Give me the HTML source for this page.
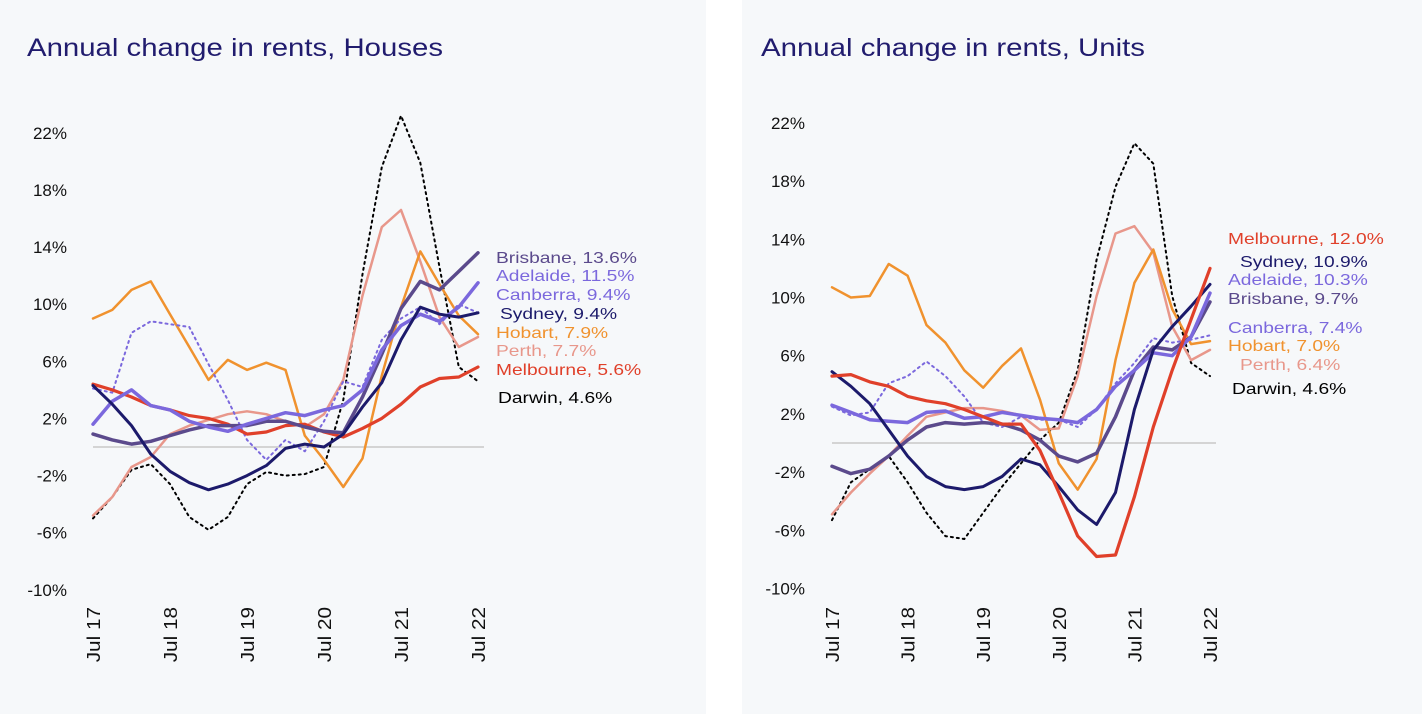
<!DOCTYPE html>
<html><head><meta charset="utf-8"><style>
html,body{margin:0;padding:0;background:#fff;}
body{width:1422px;height:714px;position:relative;overflow:hidden;font-family:"Liberation Sans",sans-serif;}
.panel{position:absolute;top:0;height:714px;background:#f6f8fa;}
</style></head><body>
<div class="panel" style="left:0;width:706px"></div>
<div class="panel" style="left:742px;width:680px"></div>
<svg id="chart" width="1422" height="714" style="position:absolute;left:0;top:0" xmlns="http://www.w3.org/2000/svg"></svg>
<script>
const xTicks = ["Jul 17","Jul 18","Jul 19","Jul 20","Jul 21","Jul 22"];
const yTicks = [22,18,14,10,6,2,-2,-6,-10];
const cities = ["Sydney","Brisbane","Adelaide","Canberra","Hobart","Perth","Melbourne","Darwin"];
// Houses, quarterly Jul17..Jul22
const housesSydney   = [4.3,3.0,1.5,-0.5,-1.7,-2.5,-3.0,-2.6,-2.0,-1.3,-0.1,0.2,0.0,0.9,2.8,4.5,7.5,9.8,9.3,9.1,9.4];
const housesBrisbane = [0.9,0.5,0.2,0.4,0.8,1.2,1.5,1.5,1.5,1.8,1.8,1.4,1.1,1.0,3.5,6.5,9.7,11.6,11.0,12.3,13.6];
const housesAdelaide = [1.6,3.2,4.0,2.9,2.6,1.8,1.4,1.1,1.6,2.0,2.4,2.2,2.6,2.9,4.0,6.8,8.5,9.3,8.8,9.8,11.5];
const housesCanberra = [4.1,3.8,8.0,8.8,8.6,8.4,5.8,3.3,0.5,-0.9,0.5,-0.3,1.8,4.6,4.2,7.5,9.0,9.8,8.6,10.0,9.4];
const housesHobart   = [9.0,9.6,11.0,11.6,9.3,7.0,4.7,6.1,5.4,5.9,5.4,0.8,-0.9,-2.8,-0.8,5.0,9.8,13.7,11.4,9.2,7.9];
const housesPerth    = [-4.8,-3.5,-1.4,-0.7,0.9,1.5,1.9,2.3,2.5,2.3,1.8,1.4,2.3,4.7,10.6,15.4,16.6,13.0,9.1,7.0,7.7];
const housesMelbourne= [4.4,4.0,3.5,2.9,2.6,2.2,2.0,1.6,0.9,1.05,1.5,1.6,1.05,0.7,1.3,2.0,3.0,4.2,4.8,4.9,5.6];
const housesDarwin   = [-5.0,-3.5,-1.6,-1.2,-2.6,-4.9,-5.8,-4.9,-2.6,-1.75,-2.0,-1.9,-1.4,3.3,12.1,19.6,23.2,19.9,12.6,5.6,4.6];
// Units
const unitsSydney    = [4.9,3.9,2.7,0.9,-0.9,-2.3,-3.0,-3.2,-3.0,-2.3,-1.1,-1.5,-3.0,-4.6,-5.6,-3.4,2.3,6.4,8.0,9.4,10.9];
const unitsBrisbane  = [-1.6,-2.1,-1.8,-0.9,0.2,1.1,1.4,1.3,1.4,1.3,0.9,0.2,-0.9,-1.3,-0.7,1.8,5.0,6.6,6.4,7.3,9.7];
const unitsAdelaide  = [2.6,2.1,1.6,1.5,1.4,2.1,2.2,1.7,1.8,2.1,1.9,1.7,1.6,1.4,2.3,3.9,5.0,6.2,6.0,7.3,10.3];
const unitsCanberra  = [2.5,1.9,2.1,4.1,4.6,5.6,4.6,3.2,1.4,1.1,1.8,1.6,1.6,1.1,2.3,4.1,5.5,7.2,6.9,7.1,7.4];
const unitsHobart    = [10.7,10.0,10.1,12.3,11.5,8.1,6.9,5.0,3.8,5.3,6.5,3.0,-1.4,-3.2,-1.1,5.7,11.0,13.3,9.2,6.8,7.0];
const unitsPerth     = [-4.9,-3.4,-2.1,-0.9,0.5,1.8,2.1,2.4,2.4,2.2,1.9,0.9,1.0,4.6,10.1,14.4,14.9,13.1,8.0,5.7,6.4];
const unitsMelbourne = [4.6,4.7,4.2,3.9,3.2,2.9,2.7,2.3,1.8,1.3,1.3,-0.5,-3.4,-6.4,-7.8,-7.7,-3.7,1.1,5.0,8.5,12.0];
const unitsDarwin    = [-5.3,-2.7,-1.8,-0.9,-2.7,-4.8,-6.4,-6.6,-4.8,-3.0,-1.4,0.2,1.4,5.0,12.6,17.6,20.6,19.2,10.1,5.5,4.6];

const NS="http://www.w3.org/2000/svg";
const svg=document.getElementById('chart');
function mk(tag,attrs,parent){const e=document.createElementNS(NS,tag);for(const k in attrs)e.setAttribute(k,attrs[k]);(parent||svg).appendChild(e);return e;}
function widen(e,f){try{const l=e.getComputedTextLength();if(l>0){e.setAttribute('textLength',(l*f).toFixed(1));e.setAttribute('lengthAdjust','spacingAndGlyphs');}}catch(err){}}
const styles={
 Sydney:{c:"#1c1a6b",w:3},Brisbane:{c:"#5b4a8c",w:3.5},Adelaide:{c:"#7b68dd",w:3.5},
 Canberra:{c:"#7b68dd",w:2,d:"2 4"},Hobart:{c:"#f0922e",w:2.5},Perth:{c:"#e8978b",w:2.5},
 Melbourne:{c:"#e0402a",w:3.2},Darwin:{c:"#000",w:2,d:"2 4"}};
function drawChart(cfg){
 const g=mk('g',{});
 
 
 const xs=i=>cfg.x0+(cfg.x1-cfg.x0)*i/20;
 const ys=v=>cfg.yZero-v*cfg.yPer;
 const t=mk('text',{x:cfg.titleX,y:56,'font-size':25,fill:'#211c6e'},g);t.textContent=cfg.title;
 
 t.setAttribute('textLength',cfg.titleW);t.setAttribute('lengthAdjust','spacingAndGlyphs');
 yTicks.forEach(v=>{const e=mk('text',{x:cfg.yLabX,y:ys(v)+6,'text-anchor':'end','font-size':17,fill:'#111'},g);e.textContent=v+'%';
  });
 xTicks.forEach((s,i)=>{const x=xs(i*4);const e=mk('text',{transform:`translate(${x+7},607) rotate(-90)`,'text-anchor':'end','font-size':18,fill:'#111'},g);e.textContent=s;
  widen(e,1.15);});
 const z=mk('line',{x1:cfg.x0,x2:cfg.x1+6,y1:ys(0),y2:ys(0),stroke:'#d4d4d4','stroke-width':2},g);
 
 cfg.order.forEach(city=>{const d=cfg.data[city];const st=styles[city];
  const pts=d.map((v,i)=>xs(i).toFixed(1)+','+ys(v).toFixed(1)).join(' ');
  const p=mk('polyline',{points:pts,fill:'none',stroke:st.c,'stroke-width':st.w,'stroke-linejoin':'round','stroke-linecap':'round'},g);
  if(st.d)p.setAttribute('stroke-dasharray',st.d);
  });
 cfg.labels.forEach(l=>{const d=cfg.data[l[0]];const e=mk('text',{x:l[1],y:l[2],'font-size':16,fill:l[0]==='Darwin'?'#000':styles[l[0]].c},g);
  e.textContent=l[0]+', '+d[d.length-1].toFixed(1)+'%';
  widen(e,1.2);});
}
drawChart({name:'houses-chart',title:'Annual change in rents, Houses',titleX:27,titleW:416,x0:93,x1:478,yZero:447,yPer:14.28,yLabX:67,
 data:{Sydney:housesSydney,Brisbane:housesBrisbane,Adelaide:housesAdelaide,Canberra:housesCanberra,Hobart:housesHobart,Perth:housesPerth,Melbourne:housesMelbourne,Darwin:housesDarwin},
 order:["Darwin","Perth","Hobart","Canberra","Melbourne","Brisbane","Adelaide","Sydney"],
 labels:[["Brisbane",496,263],["Adelaide",496,281],["Canberra",496,300],["Sydney",500,319],["Hobart",496,338],["Perth",496,356],["Melbourne",496,375],["Darwin",498,403]]});
drawChart({name:'units-chart',title:'Annual change in rents, Units',titleX:761,titleW:384,x0:832,x1:1210,yZero:443,yPer:14.55,yLabX:805,
 data:{Sydney:unitsSydney,Brisbane:unitsBrisbane,Adelaide:unitsAdelaide,Canberra:unitsCanberra,Hobart:unitsHobart,Perth:unitsPerth,Melbourne:unitsMelbourne,Darwin:unitsDarwin},
 order:["Darwin","Perth","Hobart","Canberra","Brisbane","Adelaide","Sydney","Melbourne"],
 labels:[["Melbourne",1228,244],["Sydney",1240,267],["Adelaide",1228,285],["Brisbane",1228,304],["Canberra",1228,333],["Hobart",1228,351],["Perth",1240,370],["Darwin",1232,394]]});
</script>
</body></html>
